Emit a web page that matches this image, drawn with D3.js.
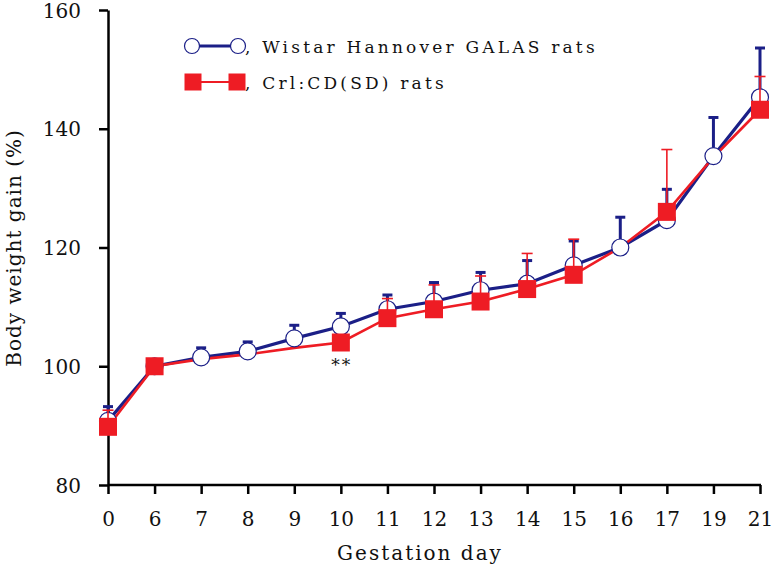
<!DOCTYPE html>
<html>
<head>
<meta charset="utf-8">
<script src="https://cdn.jsdelivr.net/npm/d3@7"></script>
<style>
  body { margin: 0; background: #fff; }
  text { font-family: "DejaVu Serif", serif; fill: #111; }
</style>
</head>
<body>
<div id="chart"></div>
<script>
// gestation days (categorical, evenly spaced)
var days = ["0", "6", "7", "8", "9", "10", "11", "12", "13", "14", "15", "16", "17", "19", "21"];

// Wistar Hannover GALAS rats
var wistarMean = [90.8, 100, 101.5, 102.5, 104.7, 106.7, 109.6, 110.9, 112.8, 113.9, 117.0, 120.0, 124.6, 135.4, 145.3];
var wistarSD   = [2.4, 0, 1.6, 1.6, 2.2, 2.2, 2.4, 3.2, 3.0, 3.9, 4.1, 5.1, 5.2, 6.5, 8.3];

// Crl:CD(SD) rats (null = no marker / error bar drawn on that day)
var crlMean = [89.8, 100, 101.2, 102.0, 103.1, 104.0, 108.1, 109.6, 110.9, 113.0, 115.4, 120.0, 126.0, 135.2, 143.2];
var crlSD   = [2.8, 0, null, null, null, 1.2, 3.3, 4.1, 4.3, 6.0, 6.0, null, 10.5, null, 5.6];
var crlMarker = [true, true, false, false, false, true, true, true, true, true, true, false, true, false, true];

var yTicks = [80, 100, 120, 140, 160];
var starDay = "10", starLabel = "**";

var navy = "#1b1f87", red = "#ee1c24";

var width = 773, height = 575;
var svg = d3.select("#chart").append("svg")
  .attr("width", width).attr("height", height);

var x = d3.scalePoint().domain(days).range([108, 760]);
var y = d3.scaleLinear().domain([80, 160]).range([485, 10]);

// axes
var xAxis = svg.append("g")
  .attr("transform", "translate(0," + y(80) + ")")
  .call(d3.axisBottom(x).tickSize(9).tickPadding(18).tickSizeOuter(0));
var yAxis = svg.append("g")
  .attr("transform", "translate(" + x("0") + ",0)")
  .call(d3.axisLeft(y).tickValues(yTicks).tickSize(9).tickPadding(18).tickSizeOuter(0));

[xAxis, yAxis].forEach(function(g) {
  g.select(".domain").attr("stroke", "#000").attr("stroke-width", 2.5);
  g.selectAll(".tick line").attr("stroke", "#000").attr("stroke-width", 2.5);
  g.selectAll(".tick text").style("font-family", "DejaVu Serif, serif")
    .style("font-size", "20px").attr("fill", "#111");
});
yAxis.selectAll(".tick text").attr("dy", "0.36em");
// x axis line runs from the y axis to the last tick
xAxis.select(".domain").attr("d", "M" + x("0") + ",0H" + (x("21") + 1));

// axis titles
svg.append("text")
  .attr("x", 420).attr("y", 560)
  .attr("text-anchor", "middle")
  .attr("letter-spacing", "2px")
  .style("font-size", "20px")
  .text("Gestation day");

svg.append("text")
  .attr("transform", "translate(21,248) rotate(-90)")
  .attr("text-anchor", "middle")
  .attr("letter-spacing", "1px")
  .style("font-size", "20px")
  .text("Body weight gain (%)");

var line = d3.line()
  .x(function(d) { return x(d.day); })
  .y(function(d) { return y(d.v); });

var wData = days.map(function(d, i) { return { day: d, v: wistarMean[i], sd: wistarSD[i] }; });
var cData = days.map(function(d, i) { return { day: d, v: crlMean[i], sd: crlSD[i], mk: crlMarker[i] }; });

// lines
svg.append("path").datum(wData).attr("d", line)
  .attr("fill", "none").attr("stroke", navy).attr("stroke-width", 3.2);
svg.append("path").datum(cData).attr("d", line)
  .attr("fill", "none").attr("stroke", red).attr("stroke-width", 2.6);

// error bars (upper SD only)
function errBars(data, color, sw, cap) {
  var g = svg.append("g");
  var d2 = data.filter(function(d) { return d.sd != null && d.sd > 0; });
  g.selectAll("line.stem").data(d2).enter().append("line")
    .attr("x1", function(d) { return x(d.day); })
    .attr("x2", function(d) { return x(d.day); })
    .attr("y1", function(d) { return y(d.v); })
    .attr("y2", function(d) { return y(d.v + d.sd); })
    .attr("stroke", color).attr("stroke-width", sw);
  g.selectAll("line.cap").data(d2).enter().append("line")
    .attr("x1", function(d) { return x(d.day) - cap / 2; })
    .attr("x2", function(d) { return x(d.day) + cap / 2; })
    .attr("y1", function(d) { return y(d.v + d.sd); })
    .attr("y2", function(d) { return y(d.v + d.sd); })
    .attr("stroke", color).attr("stroke-width", sw);
}

errBars(wData, navy, 3, 10);

svg.append("g").selectAll("circle").data(wData).enter().append("circle")
  .attr("cx", function(d) { return x(d.day); })
  .attr("cy", function(d) { return y(d.v); })
  .attr("r", 8.5)
  .attr("fill", "#fff").attr("stroke", navy).attr("stroke-width", 1.2);

errBars(cData, red, 1.6, 11);

var sq = 18;
svg.append("g").selectAll("rect").data(cData.filter(function(d) { return d.mk; })).enter().append("rect")
  .attr("x", function(d) { return x(d.day) - sq / 2; })
  .attr("y", function(d) { return y(d.v) - sq / 2; })
  .attr("width", sq).attr("height", sq)
  .attr("fill", red);

// significance mark
svg.append("text")
  .attr("x", x(starDay) + 1).attr("y", y(crlMean[days.indexOf(starDay)]) + 28)
  .attr("text-anchor", "middle")
  .style("font-size", "17px")
  .attr("letter-spacing", "2px")
  .text(starLabel);

// legend
var lg = svg.append("g");
lg.append("line").attr("x1", 192).attr("x2", 238).attr("y1", 46).attr("y2", 46)
  .attr("stroke", navy).attr("stroke-width", 3.2);
[192, 238].forEach(function(cx) {
  lg.append("circle").attr("cx", cx).attr("cy", 46).attr("r", 7.5)
    .attr("fill", "#fff").attr("stroke", navy).attr("stroke-width", 1.2);
});
lg.append("text").attr("x", 245).attr("y", 53).style("font-size", "17px")
  .attr("letter-spacing", "3.2px")
  .text(", Wistar Hannover GALAS rats");

lg.append("line").attr("x1", 193).attr("x2", 237).attr("y1", 82).attr("y2", 82)
  .attr("stroke", red).attr("stroke-width", 2.2);
[193, 237].forEach(function(cx) {
  lg.append("rect").attr("x", cx - 8.5).attr("y", 82 - 8.5).attr("width", 17).attr("height", 17)
    .attr("fill", red);
});
lg.append("text").attr("x", 245).attr("y", 89).style("font-size", "17px")
  .attr("letter-spacing", "3.2px")
  .text(", Crl:CD(SD) rats");
</script>
</body>
</html>
